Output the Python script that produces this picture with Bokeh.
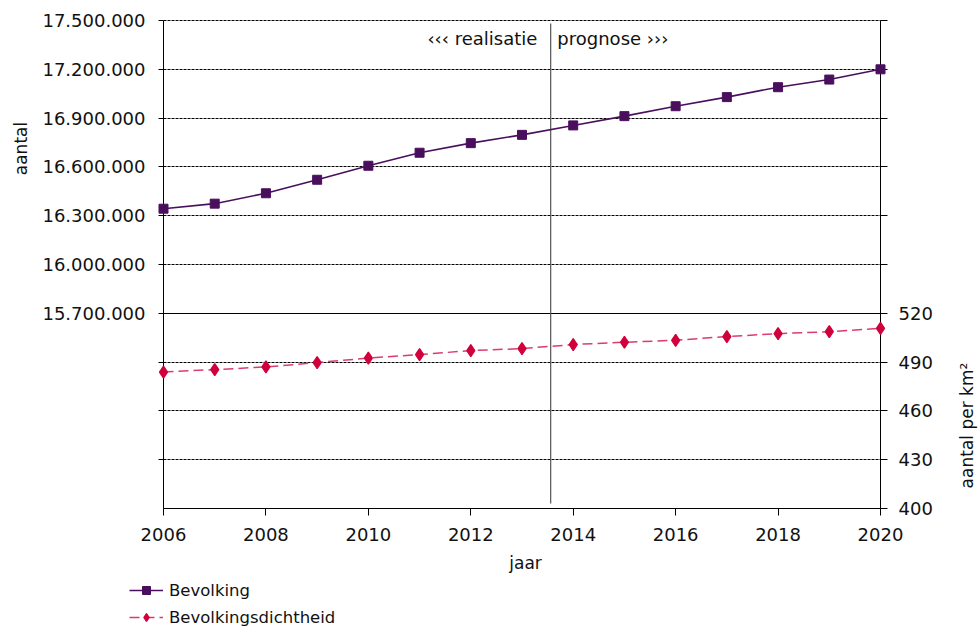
import numpy as np
from bokeh.plotting import figure
from bokeh.models import (Range1d, LinearAxis, FixedTicker, CustomJSTickFormatter, Grid,
                          Legend, LegendItem)
from bokeh.core.properties import value
from bokeh.embed import file_html
from bokeh.resources import INLINE

# ---- data ----
years = list(range(2006, 2021))
bevolking = [16343000, 16374000, 16438000, 16521000, 16607000, 16687000, 16746000,
             16797000, 16855000, 16912000, 16973000, 17029000, 17090000, 17137000, 17200000]
dichtheid = [483.9, 485.4, 487.0, 489.7, 492.5, 494.6, 497.1, 498.3,
             500.8, 502.2, 503.4, 505.7, 507.5, 508.7, 510.8]
x_ticks = [2006, 2008, 2010, 2012, 2014, 2016, 2018, 2020]
left_ticks = [14800000, 15100000, 15400000, 15700000, 16000000, 16300000,
              16600000, 16900000, 17200000, 17500000]
right_ticks = [400, 430, 460, 490, 520, 550, 580, 610, 640, 670, 700]
grid_ticks = [14800000, 15100000, 15400000, 16000000, 16300000,
              16600000, 16900000, 17200000, 17500000]
divider_tick = [15700000]
split_year = 2013.56
label_left = "\u2039\u2039\u2039 realisatie"
label_right = "prognose \u203a\u203a\u203a"
series_names = ["Bevolking", "Bevolkingsdichtheid"]

X0, X1 = 2006, 2020
YL0, YL1 = 14500000, 17500000
YR0, YR1 = 400, 700

FONT = "DejaVu Sans"
PURPLE = "#4A0F5C"
RED = "#D0003C"
RED_LINE = "#D93D6E"
TXT = "#111111"

# ---- layout: frame is the whole canvas, plot box at px 163..880 x 20..508 ----
W, H = 978, 628
BL, BR, BT, BB = 163, 880, 20, 508
ux = (X1 - X0) / (BR - BL)
ul = (YL1 - YL0) / (BB - BT)
ur = (YR1 - YR0) / (BB - BT)
p = figure(width=W, height=H, output_backend="svg", toolbar_location=None,
           x_range=Range1d(X0 - BL * ux, X1 + (W - BR) * ux),
           y_range=Range1d(YL0 - (H - BB) * ul, YL1 + BT * ul),
           min_border=0, min_border_left=0, min_border_right=0,
           min_border_top=0, min_border_bottom=0)
p.outline_line_color = None
p.extra_y_ranges = {"dens": Range1d(YR0 - (H - BB) * ur, YR1 + BT * ur)}

# axes (fixed at the plot box edges)
p.xaxis.ticker = FixedTicker(ticks=x_ticks)
p.xaxis.fixed_location = YL0
p.xaxis.bounds = (X0, X1)
p.yaxis.ticker = FixedTicker(ticks=left_ticks)
p.yaxis.fixed_location = X0
p.yaxis.bounds = (YL0, YL1)
p.yaxis.formatter = CustomJSTickFormatter(code=r"""
if (tick < 15699999) return '';
return Math.round(tick).toString().replace(/\B(?=(\d{3})+(?!\d))/g, '.');
""")
raxis = LinearAxis(y_range_name="dens", ticker=FixedTicker(ticks=right_ticks),
                   formatter=CustomJSTickFormatter(code="return tick <= 520 ? tick.toFixed(0) : '';"),
                   fixed_location=X1, bounds=(YR0, YR1))
p.add_layout(raxis, "right")

for ax in [p.xaxis[0], p.yaxis[0], raxis]:
    ax.axis_line_color = "black"
    ax.axis_line_width = 1
    ax.major_tick_line_color = "black"
    ax.major_tick_in = 0
    ax.minor_tick_line_color = None
    ax.major_label_text_font = FONT
    ax.major_label_text_font_size = "18px"
    ax.major_label_text_color = TXT
p.xaxis.major_tick_out = 7
p.xaxis.major_label_standoff = 12
p.yaxis.major_tick_out = 5
p.yaxis.major_label_standoff = 13
raxis.major_tick_out = 7
raxis.major_label_standoff = 11

# grid
p.xgrid.visible = False
has_cb = "cross_bounds" in Grid.properties()
if has_cb:
    p.ygrid.ticker = FixedTicker(ticks=grid_ticks)
    p.ygrid.cross_bounds = (X0, X1)
    p.ygrid.grid_line_color = "black"
    p.ygrid.grid_line_dash = "3 1"
    p.ygrid.grid_line_width = 1
    g2 = Grid(dimension=1, ticker=FixedTicker(ticks=divider_tick), cross_bounds=(X0, X1),
              grid_line_color="black", grid_line_width=1)
    p.add_layout(g2)
else:
    p.ygrid.visible = False
    p.segment(x0=[X0] * len(grid_ticks), y0=grid_ticks, x1=[X1] * len(grid_ticks),
              y1=grid_ticks, line_color="black", line_dash="3 1", line_width=1)
    p.segment(x0=[X0], y0=divider_tick, x1=[X1], y1=divider_tick,
              line_color="black", line_width=1)

# split line
p.segment(x0=[split_year], y0=[YL0 + 5 * ul], x1=[split_year], y1=[YL1 - 3 * ul],
          line_color="#555555", line_width=1.2)

# series
l1 = p.line(years, bevolking, line_color=PURPLE, line_width=1.6, level="overlay")
s1 = p.scatter(years, bevolking, marker="square", size=9, fill_color=PURPLE,
               line_color=PURPLE, level="overlay")
l2 = p.line(years, dichtheid, y_range_name="dens", line_color=RED_LINE, line_width=1.5,
            line_dash="10 5", level="overlay")
s2 = p.scatter(years, dichtheid, y_range_name="dens", marker="diamond",
               size=12, fill_color=RED, line_color=RED, line_width=1.3, level="overlay")

# texts
def txt(x, y, t, size, align="center", angle=0.0, **kw):
    p.text(x=[x], y=[y], text=[t], angle=angle, text_align=align, text_baseline="middle",
           text_font=value(FONT), text_font_size=size, text_color=TXT, level="overlay", **kw)

txt(2013.30, 17389000, label_left, "18px", align="right")
txt(2013.69, 17389000, label_right, "18px", align="left")
txt(2003.21, 16713000, "aantal", "17px", angle=np.pi / 2)
txt(2021.68, 451, "aantal per km\u00b2", "17px", angle=np.pi / 2, y_range_name="dens")
txt(2013.07, 14168000, "jaar", "17px")

legend = Legend(items=[LegendItem(label=series_names[0], renderers=[l1, s1]),
                       LegendItem(label=series_names[1], renderers=[l2, s2])],
                location=(129, 1), orientation="vertical")
legend.padding = 0
legend.margin = 0
legend.border_line_color = None
legend.background_fill_color = None
legend.glyph_width = 34
legend.glyph_height = 20
legend.label_height = 20
legend.spacing = 7
legend.label_standoff = 6
legend.label_text_font = FONT
legend.label_text_font_size = "16.5px"
legend.label_text_color = TXT
p.add_layout(legend, "center")

open("out.html", "w").write(file_html(p, INLINE))
